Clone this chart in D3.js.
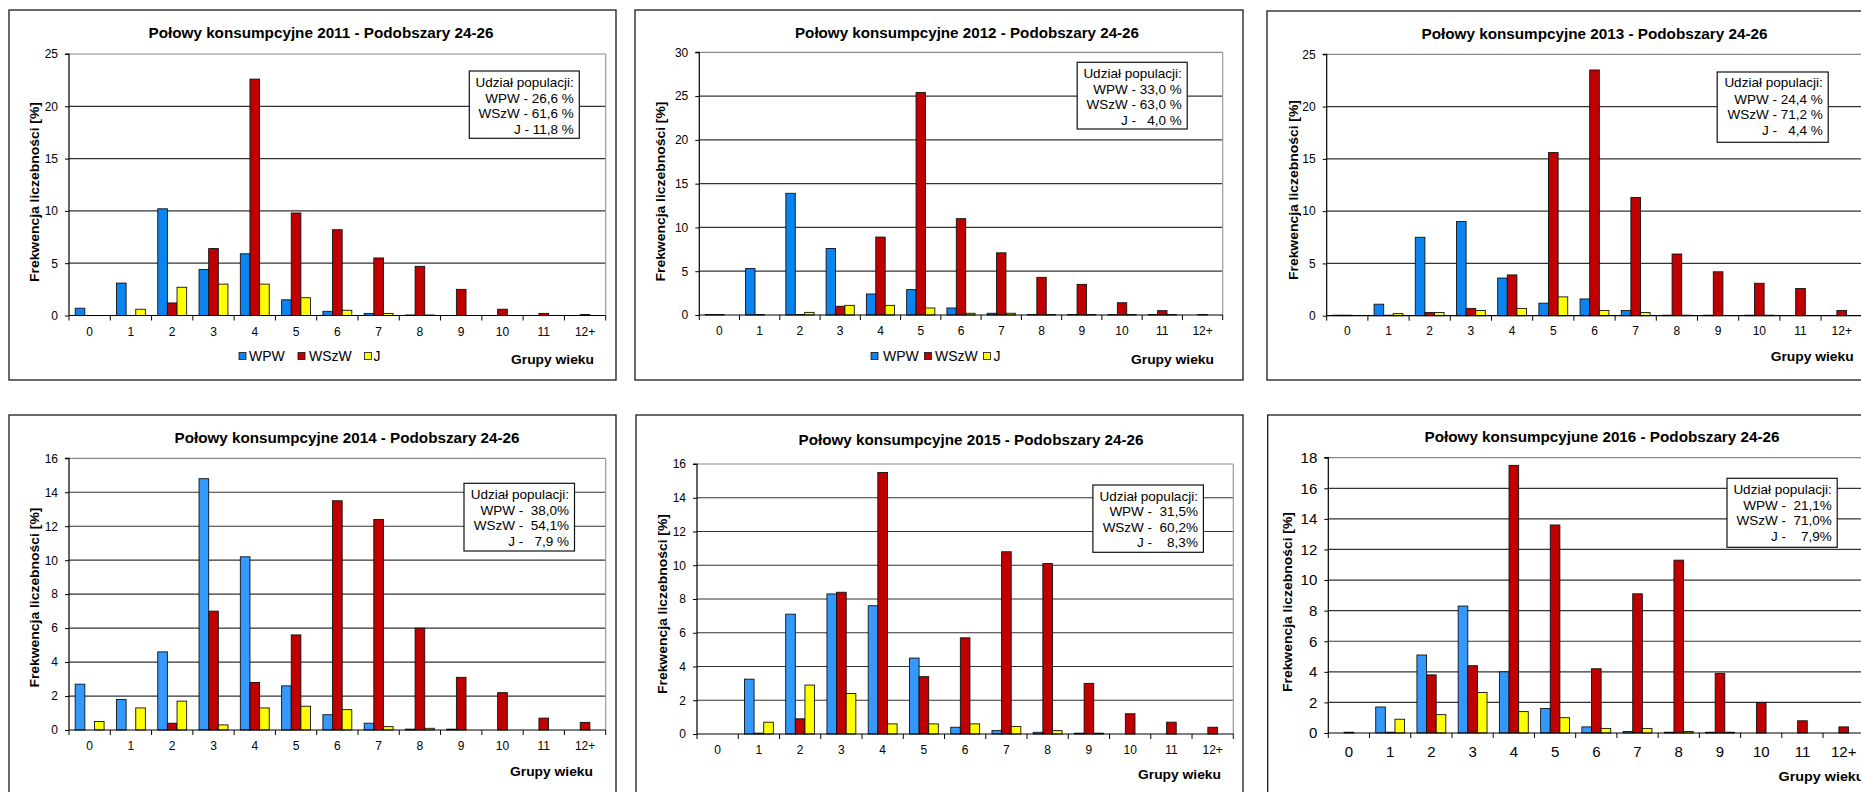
<!DOCTYPE html>
<html><head><meta charset="utf-8">
<script src="https://cdn.jsdelivr.net/npm/d3@7"></script>
<style>
body{margin:0;background:#fff;}
svg{display:block;}
text{font-family:"Liberation Sans",Arial,sans-serif;fill:#000;}
</style>
</head><body>
<svg id="c" width="1861" height="792"></svg>
<script>
// ---------------- DATA ----------------
const categories = ["0","1","2","3","4","5","6","7","8","9","10","11","12+"];
const seriesNames = ["WPW","WSzW","J"];
const titles = [
  "Połowy konsumpcyjne 2011 - Podobszary 24-26",
  "Połowy konsumpcyjne 2012 - Podobszary 24-26",
  "Połowy konsumpcyjne 2013 - Podobszary 24-26",
  "Połowy konsumpcyjne 2014 - Podobszary 24-26",
  "Połowy konsumpcyjne 2015 - Podobszary 24-26",
  "Połowy konsumpcyjune 2016 - Podobszary 24-26"
];
const yAxisTitle = "Frekwencja liczebności [%]";
const xAxisTitle = "Grupy wieku";

const wpw2011  = [0.7, 3.1, 10.2, 4.4, 5.9, 1.5, 0.4, 0.2, 0.05, 0, 0, 0, 0];
const wszw2011 = [0, 0, 1.2, 6.4, 22.6, 9.8, 8.2, 5.5, 4.7, 2.5, 0.6, 0.2, 0.1];
const j2011    = [0, 0.6, 2.7, 3.0, 3.0, 1.7, 0.5, 0.2, 0.05, 0, 0, 0, 0];

const wpw2012  = [0.05, 5.3, 13.9, 7.6, 2.4, 2.9, 0.8, 0.2, 0.05, 0.05, 0.05, 0.05, 0];
const wszw2012 = [0.05, 0.05, 0.05, 1.0, 8.9, 25.4, 11.0, 7.1, 4.3, 3.5, 1.4, 0.5, 0.05];
const j2012    = [0, 0, 0.3, 1.1, 1.1, 0.8, 0.2, 0.2, 0.05, 0.05, 0.05, 0.05, 0];

const wpw2013  = [0.05, 1.1, 7.5, 9.0, 3.6, 1.2, 1.6, 0.5, 0.05, 0.05, 0.05, 0, 0];
const wszw2013 = [0.05, 0.05, 0.3, 0.7, 3.9, 15.6, 23.5, 11.3, 5.9, 4.2, 3.1, 2.6, 0.5];
const j2013    = [0, 0.2, 0.3, 0.5, 0.7, 1.8, 0.5, 0.3, 0.05, 0, 0.05, 0, 0];

const wpw2014  = [2.7, 1.8, 4.6, 14.8, 10.2, 2.6, 0.9, 0.4, 0.05, 0.05, 0, 0, 0];
const wszw2014 = [0, 0, 0.4, 7.0, 2.8, 5.6, 13.5, 12.4, 6.0, 3.1, 2.2, 0.7, 0.45];
const j2014    = [0.5, 1.3, 1.7, 0.3, 1.3, 1.4, 1.2, 0.2, 0.1, 0, 0, 0, 0];

const wpw2015  = [0, 3.25, 7.1, 8.3, 7.6, 4.5, 0.4, 0.2, 0.1, 0.05, 0, 0, 0];
const wszw2015 = [0, 0.05, 0.9, 8.4, 15.5, 3.4, 5.7, 10.8, 10.1, 3.0, 1.2, 0.7, 0.4];
const j2015    = [0, 0.7, 2.9, 2.4, 0.6, 0.6, 0.6, 0.45, 0.2, 0.05, 0, 0, 0];

const wpw2016  = [0, 1.7, 5.1, 8.3, 4.0, 1.6, 0.4, 0.1, 0.05, 0.05, 0, 0, 0];
const wszw2016 = [0.05, 0.05, 3.8, 4.4, 17.5, 13.6, 4.2, 9.1, 11.3, 3.9, 2.0, 0.8, 0.4];
const j2016    = [0, 0.9, 1.2, 2.65, 1.4, 1.0, 0.3, 0.3, 0.1, 0.05, 0, 0, 0];

const yMaxes = [25, 30, 25, 16, 16, 18];
const yTickSteps = [5, 5, 5, 2, 2, 2];

const shares2011 = ["Udział populacji:", "WPW - 26,6 %", "WSzW - 61,6 %", "J - 11,8 %"];
const shares2012 = ["Udział populacji:", "WPW - 33,0 %", "WSzW - 63,0 %", "J -   4,0 %"];
const shares2013 = ["Udział populacji:", "WPW - 24,4 %", "WSzW - 71,2 %", "J -   4,4 %"];
const shares2014 = ["Udział populacji:", "WPW -  38,0%", "WSzW -  54,1%", "J -   7,9 %"];
const shares2015 = ["Udział populacji:", "WPW -  31,5%", "WSzW -  60,2%", "J -    8,3%"];
const shares2016 = ["Udział populacji:", "WPW -  21,1%", "WSzW -  71,0%", "J -    7,9%"];

const panelSeries = [
  [wpw2011, wszw2011, j2011],
  [wpw2012, wszw2012, j2012],
  [wpw2013, wszw2013, j2013],
  [wpw2014, wszw2014, j2014],
  [wpw2015, wszw2015, j2015],
  [wpw2016, wszw2016, j2016]
];
const panelShares = [shares2011, shares2012, shares2013, shares2014, shares2015, shares2016];

// ---------------- LAYOUT / STYLE ----------------
const layouts = [
  {frame:[9,10,607,370], pl:69, pr:605.7, pt:54, pb:315.5, tcx:321, ty:33.5, tw:345,
   ytx:34, ytcy:192, xly:332, gx:511, gy:359, gw:83,
   box:[469.3,71,110,67.3], boxLines:[82.7,98.3,113.3,129],
   leg:{y:356, sq:[239,298,364.4], tx:[249,309,373.6]}, fs:12, blue:"#0A84F0"},
  {frame:[635,10,608,370], pl:699.3, pr:1222.7, pt:52.3, pb:315, tcx:967, ty:33.5, tw:344,
   ytx:660, ytcy:191.5, xly:331, gx:1131, gy:359, gw:83,
   box:[1077.2,62.3,110,66.7], boxLines:[73.3,89.3,104.3,120],
   leg:{y:356, sq:[871,924.5,983.6], tx:[883,935,993.6]}, fs:12, blue:"#0A84F0"},
  {frame:[1267,11,700,369], pl:1326.7, pr:1862.3, pt:54.3, pb:315.7, tcx:1594.5, ty:34.5, tw:346,
   ytx:1293.5, ytcy:190, xly:331, gx:1770.7, gy:356, gw:83,
   box:[1717.2,72,111,70.3], boxLines:[82.3,99,114.3,130],
   leg:null, fs:12, blue:"#0A84F0"},
  {frame:[9,415,607,420], pl:69, pr:605.7, pt:458.3, pb:730, tcx:347, ty:438.5, tw:345,
   ytx:34, ytcy:597.6, xly:746, gx:510, gy:771, gw:83,
   box:[464,483.3,110.5,67.7], boxLines:[494.3,510.3,525.7,541.7],
   leg:null, fs:12, blue:"#3399FF"},
  {frame:[636,415,607,420], pl:697, pr:1233.3, pt:464, pb:734, tcx:971, ty:440, tw:345,
   ytx:662, ytcy:604, xly:750, gx:1138, gy:774, gw:83,
   box:[1092.9,485,110.5,67.3], boxLines:[496,511.7,527.3,542.7],
   leg:null, fs:12, blue:"#3399FF"},
  {frame:[1267.7,415,700,420], pl:1328.3, pr:1864.3, pt:457.7, pb:733, tcx:1602, ty:437, tw:355,
   ytx:1287.5, ytcy:602, xly:752, gx:1778.6, gy:776, gw:86,
   box:[1727,478.3,110.2,69], boxLines:[489.3,505,520.7,536.7],
   leg:null, fs:15, blue:"#3399FF"}
];
const red = "#C00000", yellow = "#FFFF00";

const svg = d3.select("#c");
svg.append("rect").attr("width",1861).attr("height",792).attr("fill","#fff");

layouts.forEach((L, i) => {
  const g = svg.append("g");
  const colors = [L.blue, red, yellow];
  const yMax = yMaxes[i], step = yTickSteps[i];

  // frame
  g.append("rect").attr("x",L.frame[0]).attr("y",L.frame[1])
    .attr("width",L.frame[2]).attr("height",L.frame[3])
    .attr("fill","#fff").attr("stroke","#1a1a1a").attr("stroke-width",1.3);

  const x = d3.scaleBand().domain(categories).range([L.pl, L.pr]);
  const xs = d3.scaleBand().domain(seriesNames).range([0, x.bandwidth()])
    .paddingInner(0).paddingOuter(0.643);
  const y = d3.scaleLinear().domain([0, yMax]).range([L.pb, L.pt]);
  const ticks = d3.range(0, yMax + step/2, step);

  // gridlines
  g.append("g").selectAll("line").data(ticks.filter(t => t > 0)).join("line")
    .attr("x1", L.pl).attr("x2", L.pr)
    .attr("y1", d => y(d)).attr("y2", d => y(d))
    .attr("stroke", d => d === yMax ? "#8a8a8a" : "#333").attr("stroke-width", 1.2);
  // plot right border
  g.append("line").attr("x1",L.pr).attr("x2",L.pr).attr("y1",y(yMax)).attr("y2",y(0))
    .attr("stroke","#9a9a9a").attr("stroke-width",1.2);

  // bars
  seriesNames.forEach((s, si) => {
    const pts = panelSeries[i][si].map((v, k) => ({cat: categories[k], v: v})).filter(d => d.v > 0);
    g.append("g").selectAll("rect").data(pts).join("rect")
      .attr("x", d => x(d.cat) + xs(s))
      .attr("y", d => y(d.v))
      .attr("width", xs.bandwidth())
      .attr("height", d => y(0) - y(d.v))
      .attr("fill", colors[si])
      .attr("stroke", "#111").attr("stroke-width", 0.9);
  });

  // y axis
  const ya = d3.axisLeft(y).tickValues(ticks).tickSize(4).tickPadding(7).tickFormat(d3.format("d"));
  const yg = g.append("g").attr("transform", `translate(${L.pl},0)`).call(ya);
  yg.select(".domain").attr("stroke","#000").attr("stroke-width",1.2).attr("d", `M-4,${y(yMax)}H0V${y(0)}`);
  yg.selectAll(".tick line").attr("stroke","#000");
  yg.selectAll("text").attr("font-size", L.fs).attr("font-family","Liberation Sans, Arial, sans-serif").attr("fill","#000");

  // x axis line
  g.append("line").attr("x1",L.pl).attr("x2",L.pr).attr("y1",y(0)).attr("y2",y(0))
    .attr("stroke","#000").attr("stroke-width",1.2);
  // boundary ticks
  const bounds = categories.map(c => x(c)).concat([x(categories[categories.length-1]) + x.bandwidth()]);
  g.append("g").selectAll("line").data(bounds).join("line")
    .attr("x1", d => d).attr("x2", d => d).attr("y1", y(0)).attr("y2", y(0) + 5)
    .attr("stroke","#000").attr("stroke-width",1);
  // x labels
  const xa = d3.axisBottom(x).tickSize(0).tickPadding(0);
  const xg = g.append("g").attr("transform", `translate(0,${L.xly})`).call(xa);
  xg.select(".domain").remove();
  xg.selectAll("text").attr("font-size", L.fs).attr("dy","0.35em").attr("y",0)
    .attr("font-family","Liberation Sans, Arial, sans-serif").attr("fill","#000");

  // title
  g.append("text").attr("x", L.tcx).attr("y", L.ty).attr("dy","0.35em")
    .attr("text-anchor","middle").attr("font-weight","bold").attr("font-size",14)
    .attr("textLength", L.tw).attr("lengthAdjust","spacingAndGlyphs")
    .text(titles[i]);

  // y axis title
  g.append("text").attr("transform", `translate(${L.ytx},${L.ytcy}) rotate(-90)`)
    .attr("dy","0.35em").attr("text-anchor","middle").attr("font-weight","bold")
    .attr("font-size",13).attr("textLength",180).attr("lengthAdjust","spacingAndGlyphs")
    .text(yAxisTitle);

  // x axis title
  g.append("text").attr("x", L.gx).attr("y", L.gy).attr("dy","0.35em")
    .attr("font-weight","bold").attr("font-size",13)
    .attr("textLength", L.gw).attr("lengthAdjust","spacingAndGlyphs")
    .text(xAxisTitle);

  // share box
  const b = L.box;
  g.append("rect").attr("x",b[0]).attr("y",b[1]).attr("width",b[2]).attr("height",b[3])
    .attr("fill","#fff").attr("stroke","#111").attr("stroke-width",1.2);
  g.append("g").selectAll("text").data(panelShares[i]).join("text")
    .attr("x", b[0] + b[2] - 5.5).attr("y", (d, k) => L.boxLines[k]).attr("dy","0.35em")
    .attr("text-anchor","end").attr("font-size",13.5).style("white-space","pre")
    .text(d => d);

  // series legend
  if (L.leg) {
    seriesNames.forEach((s, si) => {
      g.append("rect").attr("x", L.leg.sq[si]).attr("y", L.leg.y - 3.5)
        .attr("width", 7).attr("height", 7).attr("fill", colors[si])
        .attr("stroke","#111").attr("stroke-width",0.8);
      g.append("text").attr("x", L.leg.tx[si]).attr("y", L.leg.y).attr("dy","0.35em")
        .attr("font-size", 14).text(s);
    });
  }
});
</script>
</body></html>
